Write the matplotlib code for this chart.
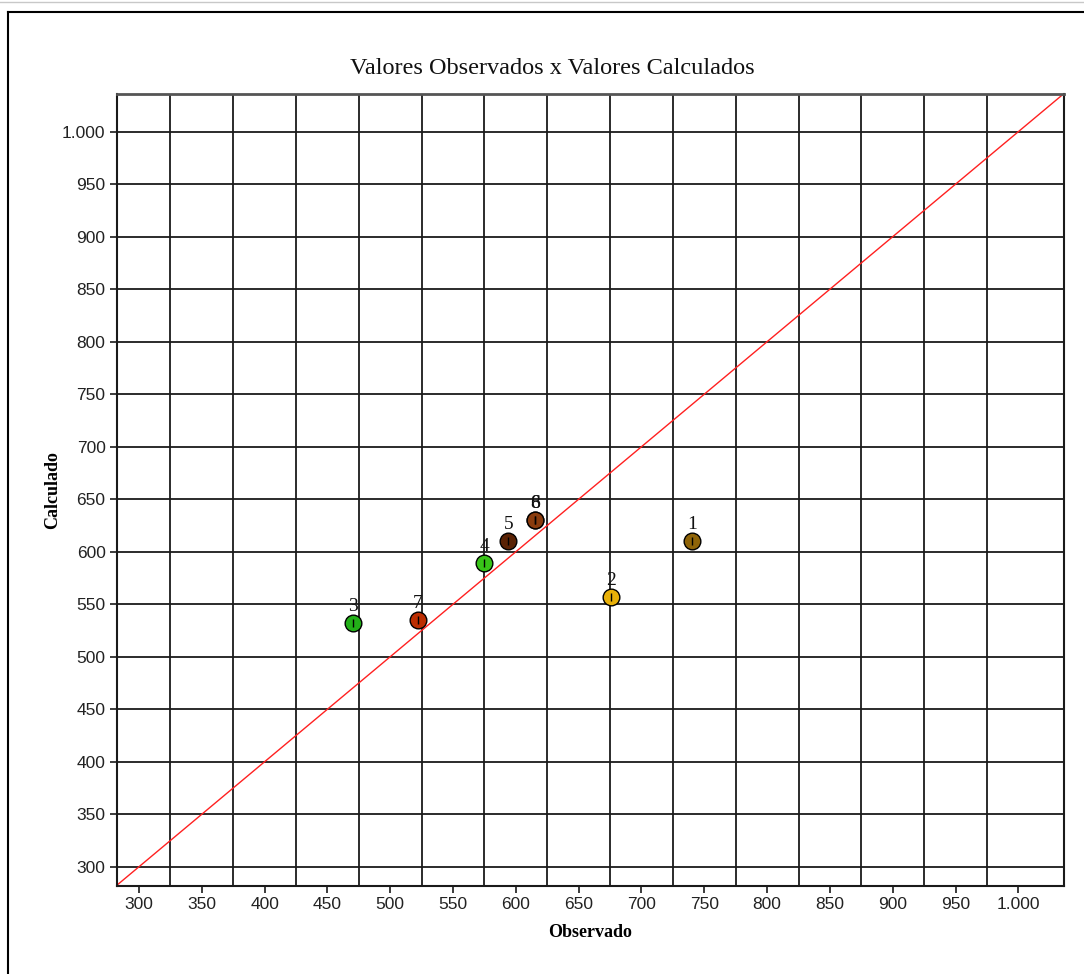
import matplotlib
matplotlib.use("Agg")
import matplotlib.pyplot as plt
from matplotlib.lines import Line2D
import numpy as np

# Data
labels = ["1", "2", "3", "4", "5", "6", "7", "8"]
observado = [740, 676, 470, 575, 594, 615, 522, 615]
calculado = [610, 557, 532, 589, 610, 630, 535, 630]
colors = ["#8f6408", "#e8b008", "#22b018", "#38c418", "#5a2204", "#8a3c0e", "#bc2e02", "#8a3c0e"]

x_ticks = list(range(300, 1001, 50))
y_ticks = list(range(300, 1001, 50))
x_grid = list(range(325, 976, 50))
y_grid = list(range(300, 1001, 50))
xlim = (282.2, 1036.6)
ylim = (281.9, 1035.9)

def fmt(v):
    return f"{v:,}".replace(",", ".")

fig = plt.figure(figsize=(10.84, 9.74), dpi=100)
fig.patch.set_facecolor("white")

# outer frame
fig.add_artist(Line2D([0, 1], [1 - 2/974, 1 - 2/974], color="#c8c8c8", lw=1.0))
fig.add_artist(Line2D([8/1084, 1.01], [1 - 11.5/974, 1 - 11.5/974], color="black", lw=1.5))
fig.add_artist(Line2D([8/1084, 8/1084], [-0.01, 1 - 11.5/974], color="black", lw=1.5))

ax = fig.add_axes([116.7/1084, 88.3/974, (1064.3-116.7)/1084, (885.7-94)/974])
ax.set_xlim(*xlim)
ax.set_ylim(*ylim)

for gx in x_grid:
    ax.axvline(gx, color="#1a1a1a", lw=1.3, zorder=1)
for gy in y_grid:
    ax.axhline(gy, color="#1a1a1a", lw=1.3, zorder=1)

lo = max(xlim[0], ylim[0]) - 10
hi = min(xlim[1], ylim[1]) + 10
ax.plot([lo, hi], [lo, hi], color="#ff2020", lw=1.0, zorder=2)

for lab, xo, yc, c in zip(labels, observado, calculado, colors):
    ax.plot(xo, yc, marker="o", ms=12, mfc=c, mec="black", mew=1.0, zorder=3, ls="none")
    ax.plot(xo, yc, marker="|", ms=6, mec="black", mew=1.0, zorder=4, ls="none")
    ax.annotate(lab, (xo, yc), xytext=(0, 6), textcoords="offset points",
                ha="center", va="bottom", fontsize=14, family="Liberation Serif",
                color="#111111", zorder=5)

ax.set_xticks(x_ticks)
ax.set_xticklabels([fmt(v) for v in x_ticks], family="Liberation Sans", fontsize=12.5)
ax.set_yticks(y_ticks)
ax.set_yticklabels([fmt(v) for v in y_ticks], family="Liberation Sans", fontsize=12.5)
ax.tick_params(direction="out", length=5, width=1.2, color="#1a1a1a", pad=3, labelcolor="#222222")

for s in ax.spines.values():
    s.set_color("#1a1a1a")
    s.set_linewidth(1.5)
ax.spines["top"].set_color("#555555")
ax.spines["top"].set_linewidth(2.0)

ax.set_xlabel("Observado", family="Liberation Serif", fontweight="bold", fontsize=13, labelpad=9)
ax.set_ylabel("Calculado", family="Liberation Serif", fontweight="bold", fontsize=13, labelpad=0.5)

fig.text(0.5 + (552 - 542)/1084, 1 - 68/974, "Valores Observados x Valores Calculados",
         ha="center", va="center", family="Liberation Serif", fontsize=17.5, color="#111111")

fig.savefig("out.png", dpi=100, facecolor="white")
